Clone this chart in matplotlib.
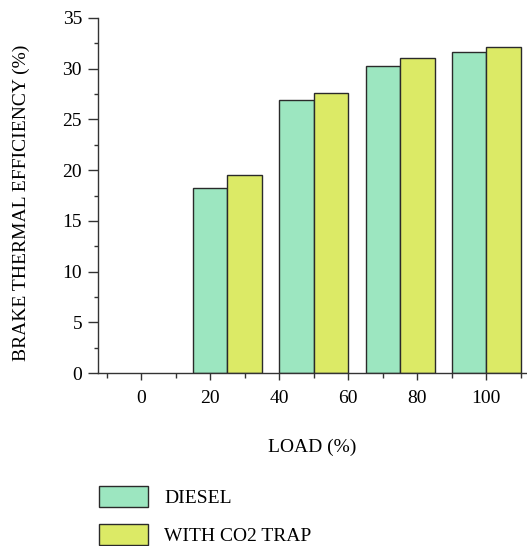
import matplotlib
matplotlib.use("Agg")
import matplotlib.pyplot as plt
import numpy as np

loads = [25, 50, 75, 100]
diesel = [18.2, 26.9, 30.3, 31.6]
co2_trap = [19.5, 27.6, 31.1, 32.1]
series_names = ["DIESEL", "WITH CO2 TRAP"]
xticks = [0, 20, 40, 60, 80, 100]
yticks = [0, 5, 10, 15, 20, 25, 30, 35]

plt.rcParams['font.family'] = ['Liberation Serif', 'DejaVu Serif']
plt.rcParams['font.size'] = 14

fig = plt.figure(figsize=(5.27, 5.46), dpi=100)
ax = fig.add_axes([98/527, (546-373)/546, 428/527, 355/546])

w = 10
x = np.array(loads, dtype=float)
b1 = ax.bar(x - w/2, diesel, width=w, color='#9ce6c0', edgecolor='#2a2a2a', linewidth=1.0, label=series_names[0])
b2 = ax.bar(x + w/2, co2_trap, width=w, color='#dcea66', edgecolor='#2a2a2a', linewidth=1.0, label=series_names[1])

ax.set_xlim(-12.5, 111.5)
ax.set_ylim(0, 35)
ax.set_xticks(xticks)
ax.set_yticks(yticks)
ax.set_xticks(np.arange(-10, 111, 10), minor=True)
ax.set_yticks(np.arange(0, 35.1, 2.5), minor=True)
ax.spines['top'].set_visible(False)
ax.spines['right'].set_visible(False)
for s in ['left', 'bottom']:
    ax.spines[s].set_color('#333333')
    ax.spines[s].set_linewidth(1.0)
ax.tick_params(axis='x', which='major', length=5, width=1.0, color='#333333', labelsize=14, pad=7)
ax.tick_params(axis='x', which='minor', length=3.6, width=1.0, color='#333333')
ax.tick_params(axis='y', which='major', length=7.5, width=1.0, color='#333333', labelsize=14, pad=4)
ax.tick_params(axis='y', which='minor', length=3, width=1.0, color='#333333')

ax.set_xlabel("LOAD (%)", fontsize=14)
ax.xaxis.set_label_coords(0.5, (373-439)/355)
ax.set_ylabel("BRAKE THERMAL EFFICIENCY (%)", fontsize=14)
ax.yaxis.set_label_coords((30-98)/428, 0.48)

fig.legend(handles=[b1, b2], labels=series_names, loc='upper left',
           bbox_to_anchor=(99/527, 1 - 486/546), frameon=False,
           handlelength=2.5, handleheight=1.25, handletextpad=0.85,
           labelspacing=0.9, fontsize=14, borderaxespad=0, borderpad=0)

fig.savefig("out.png", dpi=100)
